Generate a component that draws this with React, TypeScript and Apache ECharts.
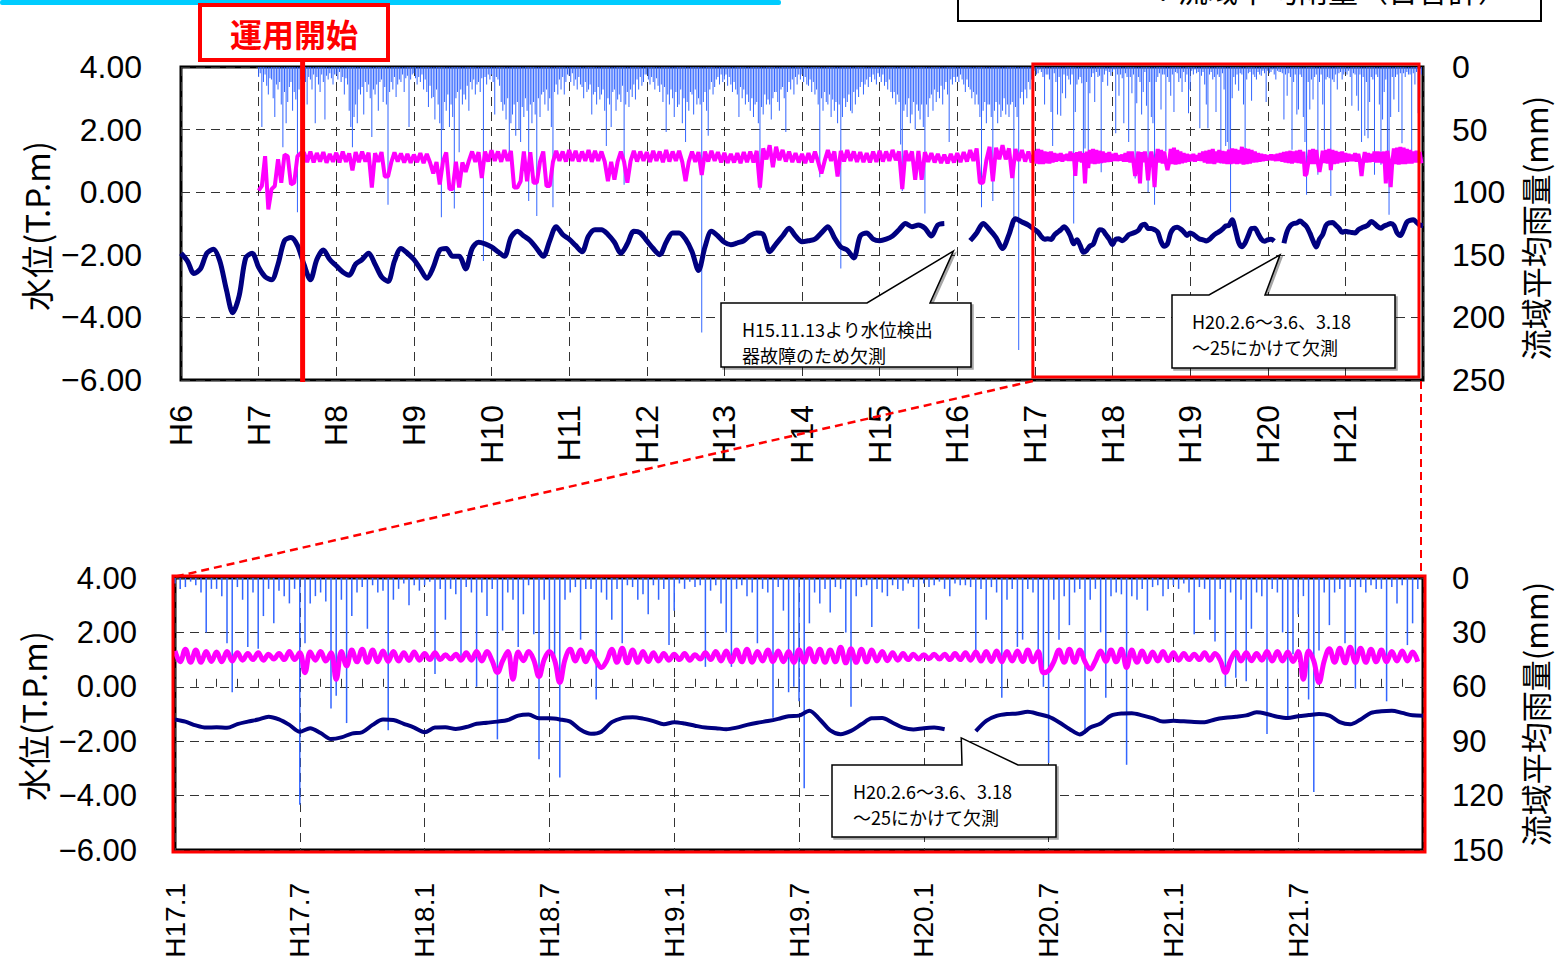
import React, { useEffect, useRef } from "react";
import * as echarts from "echarts";

// x positions are months counted from H6.1 (= 0); H17.1 = 132
const TOP_LABELS = ["H6", "H7", "H8", "H9", "H10", "H11", "H12", "H13", "H14", "H15", "H16", "H17", "H18", "H19", "H20", "H21"];
const BOTTOM_LABELS = ["H17.1", "H17.7", "H18.1", "H18.7", "H19.1", "H19.7", "H20.1", "H20.7", "H21.1", "H21.7"];
const H17_START = 132;
const TOP_END = 192;
const BOTTOM_END = 60;

// navy line: monthly, H6.1 .. H16.12
const NAVY_MONTHLY_H6_H16 = [
  -1.95, -2.2, -2.6, -2.45, -1.95, -1.82, -2.2, -3.1, -3.85, -3.3, -2.1, -1.95,
  -2.4, -2.7, -2.8, -2.3, -1.55, -1.45, -1.7, -2.3, -2.8, -2.15, -1.85, -2.15,
  -2.35, -2.55, -2.65, -2.3, -2.15, -1.95, -2.3, -2.7, -2.85, -2.2, -1.8, -1.95,
  -2.15, -2.45, -2.75, -2.4, -1.85, -1.8, -2.05, -2.05, -2.45, -1.8, -1.6, -1.65,
  -1.75, -1.9, -2.05, -1.45, -1.25, -1.4, -1.55, -1.8, -2.05, -1.55, -1.1, -1.35,
  -1.5, -1.7, -1.9, -1.4, -1.2, -1.2, -1.35, -1.6, -1.95, -1.65, -1.25, -1.3,
  -1.55, -1.8, -2.0, -1.6, -1.3, -1.3, -1.5, -1.9, -2.5, -1.75, -1.25, -1.4,
  -1.6, -1.68, -1.62, -1.55, -1.38, -1.3, -1.35, -1.9, -1.65, -1.4, -1.15, -1.4,
  -1.58, -1.55, -1.5, -1.3, -1.1, -1.45, -1.75, -1.85, -2.1, -1.4, -1.3, -1.5,
  -1.55, -1.5, -1.4, -1.2, -1.0, -1.1, -1.05, -1.15, -1.4, -1.05, -1.0, null,
  null, null, -1.55, -1.3, -1.0, -1.2, -1.45, -1.8, -1.35, -0.85, -0.95, -1.05,
];

// navy line: half-monthly, H17.1 .. H22.1
const NAVY_HALFMONTH_H17_H21 = [
  -1.2, -1.28, -1.42, -1.5, -1.49, -1.51, -1.37, -1.28, -1.2, -1.1, -1.2, -1.4,
  -1.65, -1.52, -1.7, -1.92, -1.86, -1.72, -1.67, -1.4, -1.2, -1.22, -1.36, -1.5,
  -1.67, -1.5, -1.49, -1.55, -1.48, -1.36, -1.32, -1.28, -1.22, -1.06, -1.02, -1.16,
  -1.16, -1.2, -1.28, -1.58, -1.73, -1.65, -1.3, -1.15, -1.12, -1.17, -1.26, -1.38,
  -1.3, -1.35, -1.43, -1.5, -1.52, -1.56, -1.5, -1.4, -1.32, -1.26, -1.18, -1.08,
  -1.06, -0.88, -1.2, -1.6, -1.74, -1.62, -1.38, -1.16, -1.15, -1.32, -1.5, -1.57,
  -1.52, -1.5, -1.56, null, null, -1.63, -1.25, -1.07, -1.0, -0.98, -0.92, -1.0,
  -1.1, -1.3, -1.55, -1.75, -1.5, -1.35, -1.06, -0.98, -0.97, -1.05, -1.15, -1.28,
  -1.25, -1.27, -1.29, -1.3, -1.2, -1.14, -1.1, -1.05, -0.94, -1.0, -1.1, -1.15,
  -1.08, -1.04, -1.0, -1.06, -1.3, -1.38, -1.2, -0.96, -0.9, -0.88, -0.96, -1.05,
  -1.06,
];

// magenta line: half-monthly, H7.1 .. H16.12
const MAGENTA_HALFMONTH_H7_H16 = [
  0.05, 0.2, 1.15, -0.55, 0.1, 0.2, 1.05, 0.3, 1.2, 1.15, 0.25, 0.3, 1.15, 1.25,
  1.27, 0.96, 1.3, 0.95, 1.25, 0.98, 1.28, 0.94, 1.22, 0.97,
  1.26, 0.95, 1.3, 0.97, 1.24, 0.7, 1.28, 0.96, 1.3, 0.98, 1.26, 0.15, 1.25, 0.97, 1.28, 0.5, 0.5, 0.95, 1.27, 0.98, 1.24, 0.95, 1.22, 0.94,
  1.2, 0.96, 1.25, 0.93, 1.22, 0.95, 0.6, 0.96, 0.25, 0.98, 1.27, 0.1, 0.1, 0.97, 0.15, 0.95, 0.65, 1.0, 1.3, 0.97, 1.28, 0.45, 1.3, 0.98,
  1.34, 1.0, 1.3, 0.97, 1.35, 1.0, 1.32, 0.15, 0.15, 0.35, 1.3, 0.35, 1.28, 0.3, 0.3, 0.98, 1.3, 0.2, 0.2, 0.97, 1.32, 1.0, 1.3, 0.98,
  1.35, 1.0, 1.32, 0.98, 1.3, 1.0, 1.35, 0.97, 1.32, 1.0, 1.3, 0.98, 0.35, 0.97, 0.4, 0.98, 1.3, 0.97, 0.3, 1.0, 1.32, 0.98, 1.3, 1.0,
  1.28, 0.97, 1.32, 1.0, 1.3, 0.96, 1.35, 0.98, 1.3, 1.0, 1.32, 0.96, 0.35, 0.98, 1.3, 0.97, 1.28, 0.55, 1.3, 0.98, 1.32, 1.0, 1.28, 0.95,
  1.26, 0.94, 1.22, 0.95, 1.25, 0.93, 1.28, 0.96, 1.3, 0.95, 1.32, 0.15, 1.4, 1.05, 1.5, 0.8, 1.45, 1.02, 1.35, 0.98, 1.3, 0.96, 1.25, 0.95,
  1.22, 0.93, 1.25, 0.95, 1.3, 0.97, 0.6, 1.0, 1.35, 1.0, 1.3, 0.5, 1.32, 0.98, 1.35, 1.0, 1.3, 0.97, 1.28, 0.96, 1.25, 0.95, 1.3, 0.97,
  1.32, 0.98, 1.3, 1.0, 1.35, 1.02, 1.3, 0.1, 1.33, 1.0, 1.3, 0.4, 1.32, 0.4, 1.28, 0.97, 1.25, 0.95, 1.22, 0.93, 1.2, 0.92, 1.22, 0.95,
  1.25, 0.96, 1.28, 0.98, 1.35, 1.0, 1.4, 0.3, 0.3, 1.02, 1.45, 0.35, 1.42, 1.05, 1.5, 1.05, 1.4, 0.45, 1.38, 1.0, 1.35, 0.98, 1.3, 0.95,
];

// magenta line: weekly (4 per month), H17.1 .. H21.12
const MAGENTA_WEEKLY_H17_H21 = [
  1.32, 0.92, 1.38, 0.9, 1.35, 0.9, 1.3, 0.93, 1.28, 0.92, 1.3, 0.95, 1.25, 0.98, 1.22, 1.0, 1.25, 0.98, 1.2, 1.02, 1.22, 1.0, 1.3, 1.0,
  1.25, 0.52, 1.28, 0.98, 1.3, 0.95, 1.25, 0.28, 1.3, 0.77, 1.35, 0.92, 1.38, 0.9, 1.35, 0.92, 1.32, 0.93, 1.3, 0.95, 1.25, 0.97, 1.28, 0.98,
  1.22, 1.0, 1.25, 1.0, 1.18, 1.02, 1.2, 0.98, 1.25, 0.98, 1.3, 0.95, 1.3, 0.95, 0.52, 0.95, 1.3, 0.28, 1.28, 0.96, 1.3, 0.98, 0.38, 1.0,
  1.3, 0.98, 0.16, 1.0, 1.38, 0.95, 1.35, 0.92, 1.3, 0.95, 0.71, 0.95, 1.38, 0.9, 1.42, 0.88, 1.35, 0.9, 1.3, 0.93, 1.25, 0.95, 1.22, 0.98,
  1.2, 1.0, 1.22, 0.98, 1.18, 1.02, 1.25, 1.0, 1.3, 0.95, 1.32, 0.92, 1.35, 0.92, 1.38, 0.9, 1.3, 0.95, 1.35, 0.93, 1.32, 0.92, 1.3, 0.9,
  1.36, 0.9, 1.4, 0.92, 1.38, 0.9, 1.35, 0.92, 1.45, 0.88, 1.4, 0.9, 1.38, 0.92, 1.35, 0.95, 1.3, 0.96, 1.25, 0.98, 1.22, 1.0, 1.2, 1.02,
  1.18, 1.03, 1.2, 1.02, 1.2, 1.0, 1.22, 1.0, 1.25, 0.98, 1.28, 0.95, 1.3, 0.93, 1.32, 0.92, 1.3, 0.95, 1.32, 0.93, 1.35, 0.92, 1.3, 0.52,
  0.59, 0.92, 1.35, 0.9, 1.38, 0.9, 1.35, 0.92, 0.65, 0.95, 1.32, 0.93, 1.35, 0.92, 1.38, 0.71, 1.35, 0.9, 1.32, 0.92, 1.28, 0.95, 1.3, 0.96,
  1.25, 0.98, 1.22, 1.0, 1.2, 1.0, 1.25, 0.98, 1.22, 0.98, 0.52, 0.98, 1.28, 0.95, 1.25, 0.96, 1.22, 0.98, 1.3, 0.95, 1.3, 0.95, 1.28, 0.93,
  1.3, 0.28, 1.32, 0.95, 0.16, 0.95, 1.4, 0.9, 1.42, 0.88, 1.45, 0.9, 1.42, 0.9, 1.38, 0.92, 1.35, 0.92, 1.3, 0.95, 1.32, 0.95, 1.28, 0.92,
];

// basin average daily rainfall (mm), weekly maxima, H7.1 .. H16.12
const RAIN_WEEKLY_H7_H16 = [
  8, 5, 48, 12, 6, 15, 22, 9, 10, 25, 40, 14, 18, 12, 30, 64, 20, 45, 28, 16, 12, 35, 20, 26, 116, 18, 10, 14, 22, 12, 30, 8, 10, 18, 6, 45, 8, 14, 20, 6, 12, 42, 7, 10, 5, 9, 14, 6,
  6, 10, 4, 12, 8, 22, 9, 14, 35, 48, 64, 40, 30, 45, 18, 22, 16, 38, 12, 20, 14, 25, 56, 18, 22, 14, 35, 12, 10, 28, 16, 30, 110, 20, 12, 18, 8, 24, 14, 10, 12, 6, 20, 9, 7, 48, 10, 6,
  5, 9, 14, 8, 12, 6, 18, 10, 20, 32, 15, 25, 24, 42, 18, 30, 45, 120, 50, 28, 35, 22, 48, 30, 40, 113, 25, 20, 68, 18, 30, 22, 26, 15, 35, 12, 18, 10, 22, 14, 12, 20, 9, 155, 8, 14, 6, 10,
  6, 12, 38, 8, 10, 15, 28, 35, 30, 42, 25, 70, 45, 38, 30, 55, 28, 50, 60, 32, 40, 25, 35, 107, 30, 45, 28, 38, 119, 25, 40, 22, 20, 30, 18, 35, 25, 48, 112, 20, 14, 22, 10, 18, 8, 22, 12, 6,
  7, 12, 5, 15, 10, 18, 8, 14, 16, 25, 12, 20, 18, 14, 38, 22, 20, 30, 16, 26, 22, 18, 35, 63, 25, 30, 48, 20, 18, 35, 26, 22, 28, 15, 94, 30, 20, 32, 18, 24, 14, 26, 10, 18, 8, 15, 12, 6,
  6, 10, 14, 8, 12, 18, 9, 15, 20, 14, 28, 16, 52, 22, 30, 18, 25, 40, 20, 32, 30, 18, 45, 25, 60, 28, 35, 20, 22, 38, 18, 30, 25, 30, 212, 28, 20, 35, 55, 18, 12, 22, 16, 10, 8, 14, 6, 12,
  10, 6, 15, 8, 14, 20, 12, 18, 22, 40, 16, 25, 18, 30, 22, 28, 35, 25, 40, 30, 28, 45, 98, 32, 38, 22, 30, 26, 30, 42, 25, 20, 20, 28, 35, 18, 16, 25, 52, 20, 12, 18, 10, 22, 8, 14, 6, 10,
  6, 12, 8, 14, 15, 10, 20, 12, 22, 18, 30, 88, 25, 35, 20, 28, 30, 22, 40, 26, 35, 28, 45, 30, 161, 40, 25, 32, 28, 22, 35, 37, 20, 30, 18, 24, 16, 12, 22, 14, 10, 16, 8, 12, 6, 10, 14, 5,
  8, 12, 6, 15, 12, 18, 10, 20, 25, 20, 30, 22, 28, 62, 99, 35, 30, 40, 25, 45, 38, 28, 50, 30, 35, 42, 30, 48, 117, 30, 40, 25, 22, 35, 18, 28, 20, 25, 15, 30, 18, 12, 22, 60, 10, 14, 8, 12,
  8, 12, 6, 10, 14, 20, 10, 16, 18, 25, 20, 30, 22, 30, 40, 112, 35, 28, 45, 30, 30, 40, 107, 35, 28, 45, 30, 40, 35, 25, 38, 30, 40, 30, 28, 128, 32, 40, 226, 25, 20, 30, 18, 25, 12, 18, 10, 22,
];

// basin average daily rainfall (mm), weekly maxima, H17.1 .. H21.12
const RAIN_WEEKLY_H17_H21 = [
  3, 6, 5, 2, 4, 8, 30, 6, 6, 10, 36, 63, 5, 12, 38, 8, 39, 21, 6, 25, 7, 10, 14, 6, 125, 36, 14, 10, 8, 13, 72, 65, 12, 80, 21, 8, 5, 28, 4, 8, 7, 84, 12, 6, 3, 15, 4, 7,
  4, 2, 53, 6, 23, 6, 9, 45, 5, 8, 60, 8, 21, 6, 89, 29, 8, 12, 38, 20, 4, 31, 100, 12, 40, 45, 110, 12, 8, 5, 34, 6, 6, 67, 8, 12, 23, 6, 36, 4, 5, 12, 9, 20, 4, 12, 6, 37,
  18, 3, 6, 2, 5, 4, 49, 7, 4, 14, 30, 49, 6, 4, 10, 8, 36, 6, 8, 77, 5, 18, 63, 60, 68, 116, 25, 8, 14, 6, 19, 5, 6, 30, 71, 10, 5, 4, 27, 6, 8, 10, 4, 6, 7, 3, 5, 28,
  3, 5, 4, 2, 6, 10, 3, 4, 4, 5, 42, 6, 23, 5, 8, 66, 12, 6, 38, 34, 6, 8, 40, 60, 102, 12, 34, 10, 26, 8, 6, 86, 12, 6, 30, 66, 10, 8, 9, 103, 10, 12, 6, 18, 5, 4, 10, 6,
  4, 6, 3, 8, 31, 5, 6, 23, 35, 6, 60, 8, 55, 12, 57, 28, 8, 10, 86, 6, 8, 30, 78, 42, 20, 10, 67, 118, 40, 8, 26, 8, 6, 36, 5, 61, 5, 8, 4, 6, 6, 68, 5, 14, 4, 37, 25, 6,
];

const NUM_FONT = '"Liberation Sans", Arial, sans-serif';
const JP_FONT = '"Noto Sans CJK JP", "Noto Sans CJK SC", sans-serif';
const RAIN_COLOR = "#3366FF";
const MAGENTA = "#FF00FF";
const NAVY = "#000080";
const GRID_LINE = { type: [9, 6] as any, color: "#333", width: 1 };

const seq = (arr: (number | null)[], start: number, step: number) =>
  arr.map((v, i) => [start + i * step, v == null ? "-" : v]);

const fmtLevel = (v: number) => (v < 0 ? "\u2212" + Math.abs(v).toFixed(2) : v.toFixed(2));

function buildOption(): any {
  const navyTop = [...seq(NAVY_MONTHLY_H6_H16, 0, 1), ...seq(NAVY_HALFMONTH_H17_H21, H17_START, 0.5)];
  const navyBottom = seq(NAVY_HALFMONTH_H17_H21, 0, 0.5);
  const magTop = [...seq(MAGENTA_HALFMONTH_H7_H16, 12, 0.5), ...seq(MAGENTA_WEEKLY_H17_H21, H17_START, 0.25)];
  const magBottom = seq(MAGENTA_WEEKLY_H17_H21, 0, 0.25);
  const rainTop = [...seq(RAIN_WEEKLY_H7_H16, 12, 0.25), ...seq(RAIN_WEEKLY_H17_H21, H17_START, 0.25)];
  const rainBottom = seq(RAIN_WEEKLY_H17_H21, 0, 0.25);

  const levelAxis = (gridIndex: number, margin: number, fontSize: number) => ({
    type: "value",
    gridIndex,
    min: -6,
    max: 4,
    interval: 2,
    position: "left",
    axisLine: { show: false },
    axisTick: { show: false },
    axisLabel: { margin, fontSize, fontFamily: NUM_FONT, color: "#000", formatter: fmtLevel },
    splitLine: { show: true, lineStyle: GRID_LINE },
  });
  const rainAxis = (gridIndex: number, max: number, interval: number, fontSize: number) => ({
    type: "value",
    gridIndex,
    min: 0,
    max,
    interval,
    inverse: true,
    position: "right",
    axisLine: { show: false },
    axisTick: { show: false },
    axisLabel: { margin: 29, fontSize, fontFamily: NUM_FONT, color: "#000" },
    splitLine: { show: false },
  });

  return {
    animation: false,
    backgroundColor: "#fff",
    grid: [
      { left: 181, top: 67, width: 1242, height: 313, show: true, borderColor: "#000", borderWidth: 3, backgroundColor: "transparent" },
      { left: 175, top: 578, width: 1248, height: 272, show: true, borderColor: "#000", borderWidth: 3, backgroundColor: "transparent" },
    ],
    xAxis: [
      {
        type: "value",
        gridIndex: 0,
        min: 0,
        max: TOP_END,
        interval: 12,
        axisLine: { show: false },
        axisTick: { show: true, inside: true, length: 8, lineStyle: { color: "#000" } },
        axisLabel: {
          rotate: 90,
          margin: 25,
          fontSize: 32,
          fontFamily: NUM_FONT,
          color: "#000",
          formatter: (v: number) => TOP_LABELS[Math.round(v / 12)] ?? "",
        },
        splitLine: { show: true, lineStyle: GRID_LINE },
      },
      {
        type: "value",
        gridIndex: 1,
        min: 0,
        max: BOTTOM_END,
        interval: 6,
        axisLine: { show: false },
        axisTick: { show: true, inside: true, length: 8, lineStyle: { color: "#333" } },
        minorTick: { show: true, splitNumber: 6, length: 8, lineStyle: { color: "#333" } },
        axisLabel: {
          rotate: 90,
          margin: 33,
          fontSize: 28,
          fontFamily: NUM_FONT,
          color: "#000",
          formatter: (v: number) => BOTTOM_LABELS[Math.round(v / 6)] ?? "",
        },
        splitLine: { show: true, lineStyle: GRID_LINE },
      },
    ],
    yAxis: [levelAxis(0, 39, 32), rainAxis(0, 250, 50, 32), levelAxis(1, 38, 31), rainAxis(1, 150, 30, 31)],
    series: [
      {
        name: "rainTop",
        type: "bar",
        xAxisIndex: 0,
        yAxisIndex: 1,
        data: rainTop,
        barWidth: 1,
        itemStyle: { color: RAIN_COLOR },
        silent: true,
        z: 1,
      },
      {
        name: "magTop",
        type: "line",
        xAxisIndex: 0,
        yAxisIndex: 0,
        data: magTop,
        symbol: "none",
        connectNulls: false,
        lineStyle: { color: MAGENTA, width: 4 },
        silent: true,
        z: 2,
      },
      {
        name: "navyTop",
        type: "line",
        xAxisIndex: 0,
        yAxisIndex: 0,
        data: navyTop,
        symbol: "none",
        smooth: 0.3,
        connectNulls: false,
        lineStyle: { color: NAVY, width: 5 },
        silent: true,
        z: 3,
      },
      {
        name: "rainBottom",
        type: "bar",
        xAxisIndex: 1,
        yAxisIndex: 3,
        data: rainBottom,
        barWidth: 1.5,
        itemStyle: { color: RAIN_COLOR },
        silent: true,
        z: 1,
      },
      {
        name: "magBottom",
        type: "line",
        xAxisIndex: 1,
        yAxisIndex: 2,
        data: magBottom,
        symbol: "none",
        smooth: 0.4,
        lineStyle: { color: MAGENTA, width: 5 },
        silent: true,
        z: 2,
      },
      {
        name: "navyBottom",
        type: "line",
        xAxisIndex: 1,
        yAxisIndex: 2,
        data: navyBottom,
        symbol: "none",
        smooth: 0.3,
        connectNulls: false,
        lineStyle: { color: NAVY, width: 4 },
        silent: true,
        z: 3,
      },
    ],
  };
}

const txt = (text: string, x: number, y: number, font: string, extra: any = {}) => ({
  type: "text",
  x,
  y,
  z: 110,
  ...extra,
  style: {
    text,
    font,
    fill: extra.fill ?? "#000",
    align: extra.align ?? "left",
    textAlign: extra.align ?? "left",
    verticalAlign: "middle",
    textVerticalAlign: "middle",
    lineHeight: extra.lineHeight,
  },
});

export default function App() {
  const ref = useRef<HTMLDivElement>(null);
  useEffect(() => {
    document.body.style.margin = "0";
    const chart = echarts.init(ref.current!, null, { renderer: "svg" });
    chart.setOption(buildOption());

    const topPx = (x: number, y: number) => chart.convertToPixel({ xAxisIndex: 0, yAxisIndex: 0 } as any, [x, y]) as number[];
    const botPx = (x: number, y: number) => chart.convertToPixel({ xAxisIndex: 1, yAxisIndex: 2 } as any, [x, y]) as number[];

    const tStart = topPx(H17_START, 4);
    const tEnd = topPx(TOP_END, -6);
    const bStart = botPx(0, 4);
    const bEnd = botPx(BOTTOM_END, -6);
    const opStart = topPx(18.8, 4);
    const tip1 = topPx(119.4, -1.88);
    const tip2 = topPx(169.9, -2.0);
    const tip3 = botPx(37.8, -1.88);

    const calloutStyle = {
      fill: "#fff",
      stroke: "#000",
      lineWidth: 1.5,
      shadowColor: "rgba(0,0,0,0.35)",
      shadowOffsetX: 2,
      shadowOffsetY: 2,
      shadowBlur: 1,
    };

    const graphic: any[] = [
      { type: "rect", z: 100, shape: { x: 0, y: 0, width: 781, height: 5, r: 2 }, style: { fill: "#00CCFF" } },
      { type: "rect", z: 100, shape: { x: 958, y: -20, width: 583, height: 41 }, style: { fill: "none", stroke: "#000", lineWidth: 2 } },
      txt("：流域平均雨量（日合計）", 1508, -11, `30px ${JP_FONT}`, { align: "right" }),
      // operation start marker
      { type: "line", z: 105, shape: { x1: opStart[0], y1: 58, x2: opStart[0], y2: tEnd[1] + 2 }, style: { stroke: "#FF0000", lineWidth: 5 } },
      { type: "rect", z: 106, shape: { x: 200, y: 5, width: 188, height: 55 }, style: { fill: "#fff", stroke: "#FF0000", lineWidth: 4 } },
      txt("運用開始", 294, 33, `bold 32px ${JP_FONT}`, { align: "center", fill: "#FF0000" }),
      // zoom region
      {
        type: "rect",
        z: 104,
        shape: { x: tStart[0] - 2, y: tStart[1] - 3, width: tEnd[0] - tStart[0] - 2, height: tEnd[1] - tStart[1] },
        style: { fill: "none", stroke: "#FF0000", lineWidth: 3 },
      },
      {
        type: "line",
        z: 104,
        shape: { x1: tStart[0] - 2, y1: tEnd[1] + 1, x2: bStart[0] - 1, y2: bStart[1] - 1 },
        style: { stroke: "#FF0000", lineWidth: 2.5, lineDash: [8, 5] },
      },
      {
        type: "line",
        z: 104,
        shape: { x1: tEnd[0] - 2, y1: tEnd[1] + 1, x2: tEnd[0] - 2, y2: bStart[1] - 1 },
        style: { stroke: "#FF0000", lineWidth: 2, lineDash: [8, 5] },
      },
      {
        type: "rect",
        z: 104,
        shape: { x: bStart[0] - 2, y: bStart[1] - 2, width: bEnd[0] - bStart[0] + 4, height: bEnd[1] - bStart[1] + 4 },
        style: { fill: "none", stroke: "#FF0000", lineWidth: 3 },
      },
      // callouts
      {
        type: "polygon",
        z: 108,
        shape: { points: [[721, 303], [867, 303], [tip1[0], tip1[1]], [930, 303], [971, 303], [971, 367], [721, 367]] },
        style: calloutStyle,
      },
      txt("H15.11.13より水位検出\n器故障のため欠測", 742, 342, `18px ${JP_FONT}`, { lineHeight: 26 }),
      {
        type: "polygon",
        z: 108,
        shape: { points: [[1172, 295], [1209, 295], [tip2[0], tip2[1]], [1265, 295], [1395, 295], [1395, 368], [1172, 368]] },
        style: calloutStyle,
      },
      txt("H20.2.6～3.6、3.18\n～25にかけて欠測", 1192, 334, `18px ${JP_FONT}`, { lineHeight: 26 }),
      {
        type: "polygon",
        z: 108,
        shape: { points: [[832, 765], [962, 765], [tip3[0], tip3[1]], [1018, 765], [1056, 765], [1056, 837], [832, 837]] },
        style: calloutStyle,
      },
      txt("H20.2.6～3.6、3.18\n～25にかけて欠測", 853, 804, `18px ${JP_FONT}`, { lineHeight: 26 }),
      // axis titles
      txt("水位(T.P.m)", 36, 226, `33px ${JP_FONT}`, { align: "center", rotation: Math.PI / 2 }),
      txt("流域平均雨量(mm)", 1534, 228, `31px ${JP_FONT}`, { align: "center", rotation: Math.PI / 2 }),
      txt("水位(T.P.m)", 33, 716, `33px ${JP_FONT}`, { align: "center", rotation: Math.PI / 2 }),
      txt("流域平均雨量(mm)", 1534, 714, `31px ${JP_FONT}`, { align: "center", rotation: Math.PI / 2 }),
    ];
    chart.setOption({ graphic });
    return () => chart.dispose();
  }, []);
  return <div ref={ref} style={{ width: 1558, height: 963 }} />;
}
